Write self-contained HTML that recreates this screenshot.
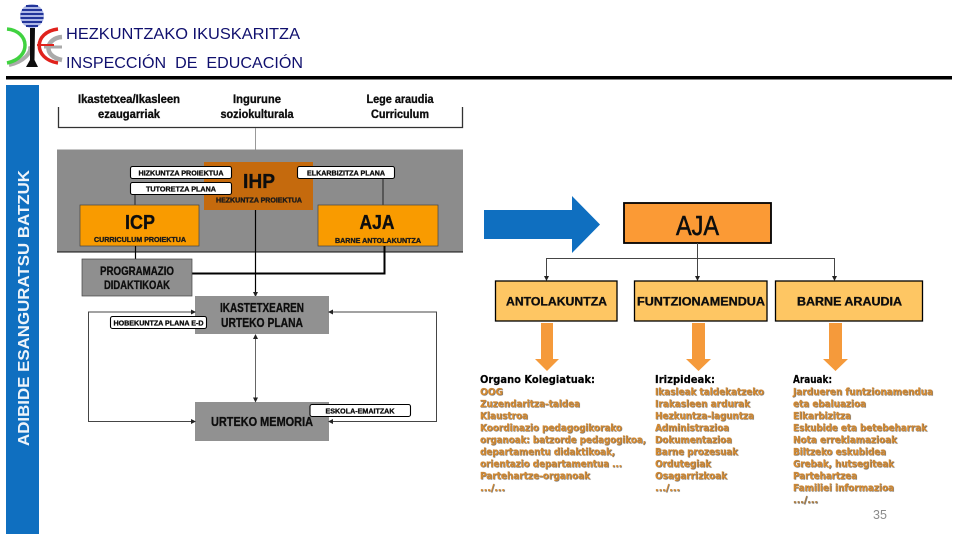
<!DOCTYPE html>
<html><head><meta charset="utf-8"><style>
html,body{margin:0;padding:0;background:#fff;width:960px;height:540px;overflow:hidden}
svg{display:block}
text{font-family:"Liberation Sans",sans-serif;white-space:pre}
text[font-weight=bold]{stroke:#111;stroke-width:.35}
.b{font-weight:bold;fill:#111;stroke:#111;stroke-width:.35}
.o{font-family:"DejaVu Sans",sans-serif;font-weight:bold;font-size:10px;fill:#e08f2e;stroke:#e08f2e;stroke-width:.15;text-shadow:.7px .7px .5px #666}
.k{font-family:"DejaVu Sans",sans-serif;font-weight:bold;font-size:10.5px;fill:#000;stroke:#000;stroke-width:.2}
.p{fill:#fff;stroke:#000;stroke-width:1.1}
</style></head><body>
<svg width="960" height="540" viewBox="0 0 960 540" xmlns="http://www.w3.org/2000/svg">
<defs>
<marker id="a" markerWidth="5" markerHeight="5" refX="4" refY="2.5" orient="auto-start-reverse" markerUnits="userSpaceOnUse"><path d="M0 0L5 2.5L0 5z" fill="#222"/></marker>
<filter id="s" filterUnits="userSpaceOnUse" x="0" y="0" width="960" height="540"><feGaussianBlur stdDeviation="0.3"/></filter>
</defs>
<rect width="960" height="540" fill="#fff"/>

<!-- logo -->
<g filter="url(#s)">
<circle cx="32" cy="16" r="12" fill="#aeb8e6"/>
<g stroke="#23349a" stroke-width="2" fill="none">
<path d="M26 6h12M22 10h20M20.500 14h23M20.500 18h23M22 22h20M26 26h12"/>
</g>
<path d="M9 65C24 62 32 52 30 46" fill="none" stroke="#aaa" stroke-width="4"/>
<path d="M62 37C46 38 42 56 62 60" fill="none" stroke="#aaa" stroke-width="4.500"/>
<path d="M44 47H62" stroke="#aaa" stroke-width="3"/>
<path d="M7 29C30 31 32 58 7 63" fill="none" stroke="#3fd23f" stroke-width="3.500"/>
<path d="M58 29C33 32 33 59 58 63" fill="none" stroke="#e0201c" stroke-width="3.500"/>
<path d="M37 45H54" stroke="#e0201c" stroke-width="2"/>
<path d="M30 28H35L34.500 60L38 67H26L30 60z" fill="#111"/>
</g>

<!-- header -->
<text x="66" y="39" font-size="16" fill="#10106e" textLength="234" lengthAdjust="spacingAndGlyphs">HEZKUNTZAKO IKUSKARITZA</text>
<text x="66" y="68" font-size="16" fill="#10106e" textLength="237" lengthAdjust="spacingAndGlyphs">INSPECCIÓN  DE  EDUCACIÓN</text>
<rect x="6" y="76" width="946" height="3.500" fill="#000"/>

<!-- sidebar -->
<rect x="6" y="85" width="33" height="449" fill="#0f6fc0"/>
<text transform="translate(29,446) rotate(-90)" font-size="16" font-weight="bold" fill="#eef4fa" style="stroke:none" textLength="276" lengthAdjust="spacingAndGlyphs">ADIBIDE ESANGURATSU BATZUK</text>

<!-- left diagram -->
<g filter="url(#s)">
<text class="b" x="129" y="103" font-size="12" text-anchor="middle" textLength="102" lengthAdjust="spacingAndGlyphs">Ikastetxea/Ikasleen</text>
<text class="b" x="129" y="118" font-size="12" text-anchor="middle" textLength="62" lengthAdjust="spacingAndGlyphs">ezaugarriak</text>
<text class="b" x="257" y="103" font-size="12" text-anchor="middle" textLength="48" lengthAdjust="spacingAndGlyphs">Ingurune</text>
<text class="b" x="257" y="118" font-size="12" text-anchor="middle" textLength="73" lengthAdjust="spacingAndGlyphs">soziokulturala</text>
<text class="b" x="400" y="103" font-size="12" text-anchor="middle" textLength="67" lengthAdjust="spacingAndGlyphs">Lege araudia</text>
<text class="b" x="400" y="118" font-size="12" text-anchor="middle" textLength="58" lengthAdjust="spacingAndGlyphs">Curriculum</text>
<path d="M58.500 107V127.500H462.500V107" fill="none" stroke="#333" stroke-width="1.300"/>
<path d="M255.500 128V150" stroke="#999" stroke-width="1"/>

<rect x="57" y="149.500" width="406" height="102.500" fill="#8c8c8c"/>
<path d="M57 252H463" stroke="#111" stroke-width="1"/>
<path d="M135 194V205M383 178V205" stroke="#222" stroke-width="1"/>
<rect x="204" y="162" width="109" height="48" fill="#c56a0a"/>
<text x="259" y="188" font-size="20" font-weight="bold" fill="#111" text-anchor="middle" textLength="32" lengthAdjust="spacingAndGlyphs">IHP</text>
<text x="259" y="202.500" font-size="7.500" font-weight="bold" fill="#222" text-anchor="middle" textLength="86" lengthAdjust="spacingAndGlyphs">HEZKUNTZA PROIEKTUA</text>
<rect class="p" x="130.500" y="166.500" width="101" height="12" rx="2"/>
<text x="181" y="175.500" font-size="7.500" font-weight="bold" fill="#111" text-anchor="middle" textLength="85" lengthAdjust="spacingAndGlyphs">HIZKUNTZA PROIEKTUA</text>
<rect class="p" x="130.500" y="182.500" width="101" height="12" rx="2"/>
<text x="181" y="191.500" font-size="7.500" font-weight="bold" fill="#111" text-anchor="middle" textLength="70" lengthAdjust="spacingAndGlyphs">TUTORETZA PLANA</text>
<rect class="p" x="297.500" y="166.500" width="97" height="12" rx="2"/>
<text x="346" y="175.500" font-size="7.500" font-weight="bold" fill="#111" text-anchor="middle" textLength="78" lengthAdjust="spacingAndGlyphs">ELKARBIZITZA PLANA</text>

<rect x="80" y="205" width="119" height="41" fill="#f99b05" stroke="#444" stroke-width=".7"/>
<text x="140" y="229" font-size="20" font-weight="bold" fill="#111" text-anchor="middle" textLength="30" lengthAdjust="spacingAndGlyphs">ICP</text>
<text x="140" y="242" font-size="7.500" font-weight="bold" fill="#222" text-anchor="middle" textLength="92" lengthAdjust="spacingAndGlyphs">CURRICULUM PROIEKTUA</text>
<rect x="318" y="205" width="120" height="41" fill="#f99b05" stroke="#444" stroke-width=".7"/>
<text x="377" y="229" font-size="20" font-weight="bold" fill="#111" text-anchor="middle" textLength="35" lengthAdjust="spacingAndGlyphs">AJA</text>
<text x="378" y="243" font-size="7.500" font-weight="bold" fill="#222" text-anchor="middle" textLength="86" lengthAdjust="spacingAndGlyphs">BARNE ANTOLAKUNTZA</text>

<path d="M135.500 246V259" stroke="#000" stroke-width="1.200"/>
<path d="M255.500 210V296" stroke="#000" stroke-width="1.200" marker-end="url(#a)"/>
<path d="M384.500 246V273.500H192" fill="none" stroke="#000" stroke-width="2"/>

<rect x="82" y="259" width="110" height="37" fill="#8f8f8f" stroke="#444" stroke-width=".7"/>
<text class="b" x="137" y="275" font-size="11.500" text-anchor="middle" textLength="74" lengthAdjust="spacingAndGlyphs">PROGRAMAZIO</text>
<text class="b" x="137" y="289" font-size="11.500" text-anchor="middle" textLength="66" lengthAdjust="spacingAndGlyphs">DIDAKTIKOAK</text>

<rect x="195" y="296" width="134" height="38" fill="#919191"/>
<text class="b" x="262" y="312" font-size="13" text-anchor="middle" textLength="84" lengthAdjust="spacingAndGlyphs">IKASTETXEAREN</text>
<text class="b" x="262" y="327" font-size="13" text-anchor="middle" textLength="82" lengthAdjust="spacingAndGlyphs">URTEKO PLANA</text>

<rect x="195" y="402" width="134" height="39" fill="#919191"/>
<text class="b" x="262" y="426" font-size="12.500" text-anchor="middle" textLength="102" lengthAdjust="spacingAndGlyphs">URTEKO MEMORIA</text>

<path d="M255.500 335V401.500" stroke="#666" stroke-width="1" marker-start="url(#a)" marker-end="url(#a)"/>
<path d="M195 312H88.500V421.500H195" fill="none" stroke="#444" stroke-width="1" marker-start="url(#a)" marker-end="url(#a)"/>
<path d="M329 312H436.500V421.500H329" fill="none" stroke="#444" stroke-width="1" marker-start="url(#a)" marker-end="url(#a)"/>

<rect class="p" x="110.500" y="316.500" width="96" height="12" rx="2"/>
<text x="158.500" y="325.500" font-size="7.500" font-weight="bold" fill="#111" text-anchor="middle" textLength="90" lengthAdjust="spacingAndGlyphs">HOBEKUNTZA PLANA E-D</text>
<rect class="p" x="310" y="404.500" width="100.500" height="12" rx="2"/>
<text x="360" y="413.500" font-size="7.500" font-weight="bold" fill="#111" text-anchor="middle" textLength="69" lengthAdjust="spacingAndGlyphs">ESKOLA-EMAITZAK</text>
</g>

<!-- big arrow -->
<path d="M484 210H572V196L600 224.500L572 253V239H484z" fill="#0f6fc0"/>

<!-- right diagram -->
<g filter="url(#s)">
<rect x="624" y="203" width="147" height="40" fill="#fb9a35" stroke="#000" stroke-width="1.800"/>
<text x="697.500" y="235" font-size="28" fill="#111" text-anchor="middle" stroke="#111" stroke-width=".6" textLength="43" lengthAdjust="spacingAndGlyphs">AJA</text>
<path d="M697.500 243V280" stroke="#444" stroke-width="1" marker-end="url(#a)"/>
<path d="M546.500 280V258.500H834.500V280" fill="none" stroke="#444" stroke-width="1" marker-start="url(#a)" marker-end="url(#a)"/>

<rect x="495.500" y="281" width="121.500" height="40" fill="#fec663" stroke="#000" stroke-width="1.300"/>
<rect x="634.500" y="281" width="132.500" height="40" fill="#fec663" stroke="#000" stroke-width="1.300"/>
<rect x="775.500" y="281" width="147" height="40" fill="#fec663" stroke="#000" stroke-width="1.300"/>
<text x="556.500" y="305.500" font-size="12" font-weight="bold" fill="#111" text-anchor="middle" textLength="101" lengthAdjust="spacingAndGlyphs">ANTOLAKUNTZA</text>
<text x="701" y="305.500" font-size="12" font-weight="bold" fill="#111" text-anchor="middle" textLength="128" lengthAdjust="spacingAndGlyphs">FUNTZIONAMENDUA</text>
<text x="849.500" y="305.500" font-size="12" font-weight="bold" fill="#111" text-anchor="middle" textLength="105" lengthAdjust="spacingAndGlyphs">BARNE ARAUDIA</text>

<g fill="#f59a3a">
<path d="M541 323H553V359H559L547 371L535 359H541z"/>
<path d="M692 323H705V359H711L698.500 371L686 359H692z"/>
<path d="M829 323H842V359H848L835.500 371L823 359H829z"/>
</g>

<text class="k" x="480" y="383" textLength="115" lengthAdjust="spacingAndGlyphs">Organo Kolegiatuak:</text>
<text class="o" x="480" y="395" textLength="23" lengthAdjust="spacingAndGlyphs">OOG</text>
<text class="o" x="480" y="407" textLength="100" lengthAdjust="spacingAndGlyphs">Zuzendaritza-taldea</text>
<text class="o" x="480" y="419" textLength="48" lengthAdjust="spacingAndGlyphs">Klaustroa</text>
<text class="o" x="480" y="431" textLength="142" lengthAdjust="spacingAndGlyphs">Koordinazio pedagogikorako</text>
<text class="o" x="480" y="443" textLength="166" lengthAdjust="spacingAndGlyphs">organoak: batzorde pedagogikoa,</text>
<text class="o" x="480" y="455" textLength="135" lengthAdjust="spacingAndGlyphs">departamentu didaktikoak,</text>
<text class="o" x="480" y="467" textLength="142" lengthAdjust="spacingAndGlyphs">orientazio departamentua ...</text>
<text class="o" x="480" y="479" textLength="110" lengthAdjust="spacingAndGlyphs">Partehartze-organoak</text>
<text class="o" x="480" y="491" textLength="25" lengthAdjust="spacingAndGlyphs">.../...</text>

<text class="k" x="655" y="383" textLength="60" lengthAdjust="spacingAndGlyphs">Irizpideak:</text>
<text class="o" x="655" y="395" textLength="109" lengthAdjust="spacingAndGlyphs">Ikasleak taldekatzeko</text>
<text class="o" x="655" y="407" textLength="95" lengthAdjust="spacingAndGlyphs">Irakasleen ardurak</text>
<text class="o" x="655" y="419" textLength="99" lengthAdjust="spacingAndGlyphs">Hezkuntza-laguntza</text>
<text class="o" x="655" y="431" textLength="74" lengthAdjust="spacingAndGlyphs">Administrazioa</text>
<text class="o" x="655" y="443" textLength="77" lengthAdjust="spacingAndGlyphs">Dokumentazioa</text>
<text class="o" x="655" y="455" textLength="83" lengthAdjust="spacingAndGlyphs">Barne prozesuak</text>
<text class="o" x="655" y="467" textLength="56" lengthAdjust="spacingAndGlyphs">Ordutegiak</text>
<text class="o" x="655" y="479" textLength="72" lengthAdjust="spacingAndGlyphs">Osagarrizkoak</text>
<text class="o" x="655" y="491" textLength="25" lengthAdjust="spacingAndGlyphs">.../...</text>

<text class="k" x="793" y="383" textLength="39" lengthAdjust="spacingAndGlyphs">Arauak:</text>
<text class="o" x="793" y="395" textLength="140" lengthAdjust="spacingAndGlyphs">Jardueren funtzionamendua</text>
<text class="o" x="793" y="407" textLength="73" lengthAdjust="spacingAndGlyphs">eta ebaluazioa</text>
<text class="o" x="793" y="419" textLength="58" lengthAdjust="spacingAndGlyphs">Elkarbizitza</text>
<text class="o" x="793" y="431" textLength="134" lengthAdjust="spacingAndGlyphs">Eskubide eta betebeharrak</text>
<text class="o" x="793" y="443" textLength="104" lengthAdjust="spacingAndGlyphs">Nota erreklamazioak</text>
<text class="o" x="793" y="455" textLength="93" lengthAdjust="spacingAndGlyphs">Biltzeko eskubidea</text>
<text class="o" x="793" y="467" textLength="101" lengthAdjust="spacingAndGlyphs">Grebak, hutsegiteak</text>
<text class="o" x="793" y="479" textLength="64" lengthAdjust="spacingAndGlyphs">Partehartzea</text>
<text class="o" x="793" y="491" textLength="101" lengthAdjust="spacingAndGlyphs">Familiei informazioa</text>
<text class="o" x="793" y="503" textLength="25" lengthAdjust="spacingAndGlyphs" style="fill:#b5803f;stroke:#b5803f">.../...</text>
</g>

<text x="873" y="519" font-size="12.500" fill="#8a8a8a">35</text>
</svg>
</body></html>
